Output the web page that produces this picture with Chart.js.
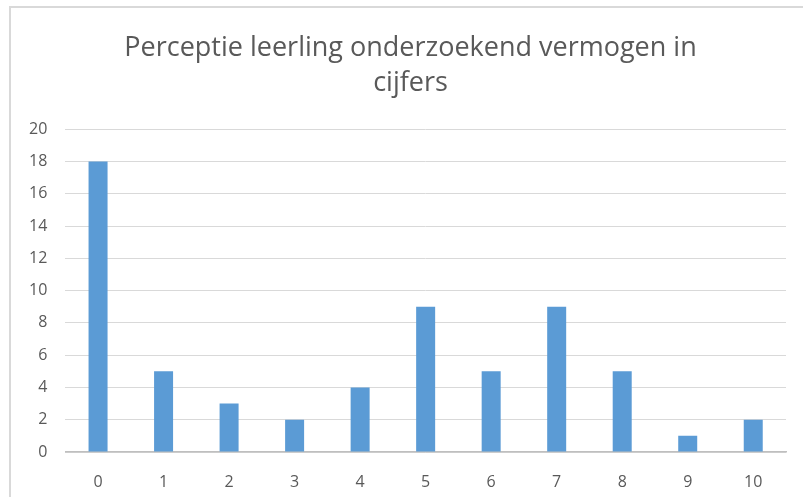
<!DOCTYPE html>
<html>
<head>
<meta charset="utf-8">
<script src="https://cdn.jsdelivr.net/npm/chart.js@4/dist/chart.umd.min.js"></script>
<style>
  html, body { margin: 0; padding: 0; background: #fff; }
  #wrap { position: relative; width: 803px; height: 497px; overflow: hidden; }
  #frame { position: absolute; left: 9px; top: 6px; width: 900px; height: 600px; border-left: 2px solid #d9d9d9; border-top: 2px solid #d9d9d9; }
  canvas { position: absolute; left: 0; top: 0; }
</style>
</head>
<body>
<div id="wrap">
  <div id="frame"></div>
  <canvas id="chart" width="803" height="497"></canvas>
</div>
<script>
const categories = ["0", "1", "2", "3", "4", "5", "6", "7", "8", "9", "10"];
const counts = [18, 5, 3, 2, 4, 9, 5, 9, 5, 1, 2];
const titleLines = ["Perceptie leerling onderzoekend vermogen in", "cijfers"];

const textColor = "#595959";
const fontFamily = "'Open Sans', 'Liberation Sans', sans-serif";

// the original title sits a bit right of the canvas centre
const titleShift = {
  id: "titleShift",
  afterLayout: function (chart) {
    if (chart.titleBlock) chart.titleBlock.left += 24;
  },
};

new Chart(document.getElementById("chart").getContext("2d"), {
  type: "bar",
  data: {
    labels: categories,
    datasets: [
      {
        data: counts,
        backgroundColor: "#5B9BD5",
        borderWidth: 0,
        barPercentage: 0.29,
        categoryPercentage: 1,
      },
    ],
  },
  options: {
    responsive: false,
    animation: false,
    layout: { padding: { left: 11, right: 17, top: 30, bottom: 0 } },
    plugins: {
      legend: { display: false },
      tooltip: { enabled: false },
      title: {
        display: true,
        text: titleLines,
        color: textColor,
        font: { family: fontFamily, size: 27, weight: "normal", lineHeight: 1.32 },
        padding: { top: 0, bottom: 28 },
      },
    },
    scales: {
      x: {
        grid: { display: false },
        border: { display: true, color: "#bfbfbf", width: 1.5 },
        ticks: { color: textColor, font: { family: fontFamily, size: 16 }, padding: 13 },
        afterFit: function (scale) {
          scale.height = 45;
        },
      },
      y: {
        min: 0,
        max: 20,
        border: { display: false },
        grid: { color: "#d9d9d9", drawTicks: false },
        ticks: { stepSize: 2, color: textColor, font: { family: fontFamily, size: 16 }, padding: 18 },
      },
    },
  },
  plugins: [titleShift],
});
</script>
</body>
</html>
